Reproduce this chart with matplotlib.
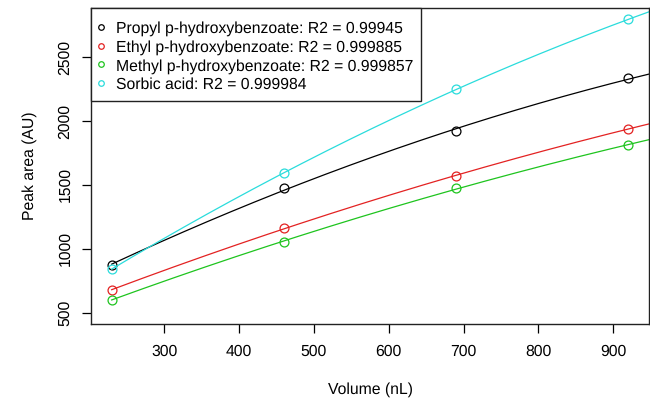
import numpy as np
import matplotlib.pyplot as plt
from matplotlib.lines import Line2D
from matplotlib.patches import Rectangle

plt.rcParams['font.family'] = ['Liberation Sans', 'DejaVu Sans']
plt.rcParams['text.hinting'] = 'no_hinting'

volume = [230, 460, 690, 920]
propyl = [874, 1475, 1924, 2334]
ethyl = [678, 1161, 1571, 1940]
methyl = [602, 1054, 1475, 1814]
sorbic = [842, 1592, 2251, 2796]

names = ['Propyl p-hydroxybenzoate', 'Ethyl p-hydroxybenzoate',
         'Methyl p-hydroxybenzoate', 'Sorbic acid']
r2 = ['0.99945', '0.999885', '0.999857', '0.999984']
colors = ['black', '#E32222', '#1EC41E', '#2ADCDC']

fs = 11.3
W, H = 650, 401

fig = plt.figure(figsize=(6.5, 4.01), dpi=100)
ax = fig.add_axes([91 / W, 1 - 324 / H, 558 / W, 316 / H])

xfit = np.linspace(230, 960, 300)
for y, c in zip([propyl, ethyl, methyl, sorbic], colors):
    ax.plot(volume, y, 'o', mfc='none', mec=c, ms=6.4, mew=0.9)
    # quadratic calibration fit
    coef = np.polyfit(volume, y, 2)
    ax.plot(xfit, np.polyval(coef, xfit), color=c, lw=0.9)

ax.set_xlim(202.4, 947.6)
ax.set_ylim(411, 2886)
ax.set_xticks([300, 400, 500, 600, 700, 800, 900])
ax.set_yticks([500, 1000, 1500, 2000, 2500])
ax.tick_params(length=6.5, width=0.9, labelsize=fs)
ax.tick_params(axis='x', pad=8.2)
ax.tick_params(axis='y', pad=6.8)
for lab in ax.get_yticklabels():
    lab.set_rotation(90)
    lab.set_va('center')
for s in ax.spines.values():
    s.set_linewidth(1.0)
    s.set_color('#222222')

ax.set_xlabel('Volume (nL)', fontsize=fs, labelpad=16.5)
ax.set_ylabel('Peak area (AU)', fontsize=fs, labelpad=14.5)

# legend box drawn by hand (pixel layout of the original)
fig.add_artist(Rectangle((90.7 / W, 1 - 101 / H), 330 / W, 93.3 / H,
                         transform=fig.transFigure, facecolor='white',
                         edgecolor='#222222', lw=1.0, zorder=5))
for i, (c, n, r) in enumerate(zip(colors, names, r2)):
    yc = 27.2 + 18.6 * i
    fig.add_artist(Line2D([101 / W], [1 - yc / H], transform=fig.transFigure,
                          ls='none', marker='o', mfc='none', mec=c, ms=4.0,
                          mew=0.9, zorder=6))
    fig.text(116 / W, 1 - (yc + 5.8) / H, f'{n}: R2 = {r}', fontsize=fs,
             va='baseline', ha='left', zorder=6)

fig.savefig('out.png', dpi=100)
